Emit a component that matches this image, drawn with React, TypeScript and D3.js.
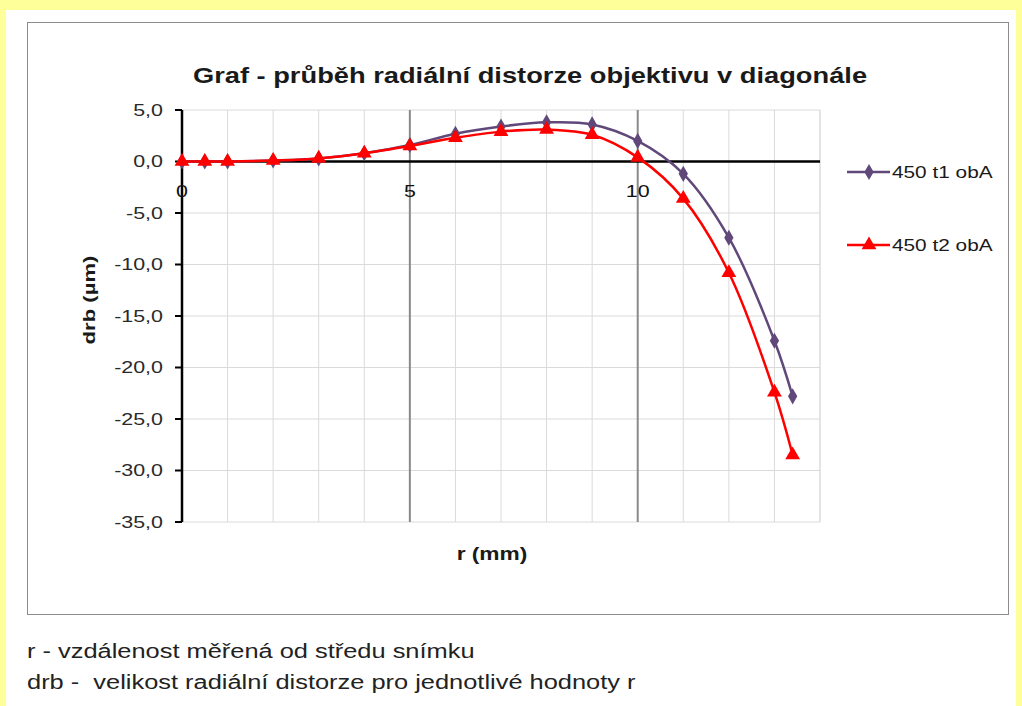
import React from "react"
import * as d3 from "d3"

// r (mm) - distance from image centre
const radius = [0, 0.5, 1, 2, 3, 4, 5, 6, 7, 8, 9, 10, 11, 12, 13, 13.4]
// drb (µm) for each measurement
const t1 = [0, 0, 0, 0.1, 0.3, 0.8, 1.6, 2.7, 3.4, 3.8, 3.6, 2.0, -1.2, -7.4, -17.4, -22.8]
const t2 = [0, 0, 0, 0.1, 0.3, 0.8, 1.5, 2.3, 2.9, 3.1, 2.6, 0.4, -3.6, -10.8, -22.4, -28.5]
const seriesNames = ["450 t1 obA", "450 t2 obA"]
const yTicks = [5, 0, -5, -10, -15, -20, -25, -30, -35]
const xLabels = [0, 5, 10]
const notes = [
    "r - vzdálenost měřená od středu snímku",
    "drb -  velikost radiální distorze pro jednotlivé hodnoty r",
]

const W = 1022
const H = 706
const font = "'Liberation Sans', Arial, sans-serif"

// text in the picture is a bit stretched sideways
function Label(props: { x: number, y: number, sx?: number, rotate?: number, anchor?: string, size: number, bold?: boolean, dy?: string, fill?: string, children: React.ReactNode }) {
    const { x, y, sx = 1.3, rotate = 0, anchor = "start", size, bold, dy, fill = "#1a1a1a" } = props
    return (
        <g transform={`translate(${x}, ${y}) rotate(${rotate}) scale(${sx}, 1)`}>
            <text textAnchor={anchor} fontSize={size} fontWeight={bold ? "bold" : "normal"} dy={dy} fill={fill}
                style={{ whiteSpace: "pre" }}>{props.children}</text>
        </g>
    )
}

export default function App() {
    const xScale = d3.scaleLinear().domain([0, 14]).range([182, 820])
    const yScale = d3.scaleLinear().domain([5, -35]).range([110, 522])

    const series = [
        { name: seriesNames[0], values: t1, color: "#60497A", symbol: d3.symbolDiamond, size: 75 },
        { name: seriesNames[1], values: t2, color: "#FF0000", symbol: d3.symbolTriangle, size: 95 },
    ]

    const line = d3.line<number>()
        .x((d, i) => xScale(radius[i]))
        .y(d => yScale(d))
        .curve(d3.curveCatmullRom.alpha(0.5))

    const minorX = d3.range(1, 15).filter(v => v % 5 !== 0)
    const fmt = (v: number) => d3.format(".1f")(v).replace(".", ",").replace("−", "-")

    return (
        <div style={{ position: "absolute", left: 0, top: 0 }}>
            <svg width={W} height={H} style={{ display: "block", fontFamily: font }}>
                <rect width={W} height={H} fill="#FFFF99" />
                <rect x={6} y={10} width={1010} height={H - 10} fill="#FFFFFF" />
                <rect x={27.5} y={22.5} width={981} height={592} fill="#FFFFFF" stroke="#8C8C8C" strokeWidth={1} />

                <Label x={530} y={83} sx={1.24} anchor="middle" size={22} bold>
                    Graf - průběh radiální distorze objektivu v diagonále
                </Label>

                {/* grid */}
                {yTicks.map(v => (
                    <line key={"gy" + v} x1={xScale(0)} x2={xScale(14)} y1={yScale(v)} y2={yScale(v)} stroke="#DADADA" strokeWidth={1} />
                ))}
                {minorX.map(v => (
                    <line key={"gx" + v} x1={xScale(v)} x2={xScale(v)} y1={yScale(5)} y2={yScale(-35)} stroke="#DADADA" strokeWidth={1} />
                ))}
                {[5, 10].map(v => (
                    <line key={"mx" + v} x1={xScale(v)} x2={xScale(v)} y1={yScale(5)} y2={yScale(-35)} stroke="#8A8A8A" strokeWidth={2} />
                ))}
                <line x1={xScale(14)} x2={xScale(14)} y1={yScale(5)} y2={yScale(-35)} stroke="#DADADA" />

                {/* axes */}
                <line x1={xScale(0)} x2={xScale(14)} y1={yScale(0)} y2={yScale(0)} stroke="#000" strokeWidth={2.5} />
                <line x1={xScale(0)} x2={xScale(0)} y1={yScale(5)} y2={yScale(-35)} stroke="#000" strokeWidth={2.5} />
                {yTicks.map(v => (
                    <g key={"ty" + v}>
                        <line x1={xScale(0) - 7} x2={xScale(0)} y1={yScale(v)} y2={yScale(v)} stroke="#000" strokeWidth={2} />
                        <Label x={xScale(0) - 19} y={yScale(v)} anchor="end" size={16.5} dy="0.36em" fill="#2a2a2a">{fmt(v)}</Label>
                    </g>
                ))}
                {xLabels.map(v => (
                    <Label key={"tx" + v} x={xScale(v)} y={yScale(0) + 35} anchor="middle" size={16.5} fill="#111">{v}</Label>
                ))}

                <Label x={95} y={300} rotate={-90} anchor="middle" size={17} bold>drb (µm)</Label>
                <Label x={492} y={560} anchor="middle" size={17.5} bold>r (mm)</Label>

                {/* series */}
                {series.map(s => (
                    <g key={s.name}>
                        <path d={line(s.values) ?? ""} fill="none" stroke={s.color} strokeWidth={2.5} />
                        {s.values.map((v, i) => (
                            <path key={i} transform={`translate(${xScale(radius[i])}, ${yScale(v)})`}
                                d={d3.symbol().type(s.symbol).size(s.size)() ?? ""} fill={s.color} />
                        ))}
                    </g>
                ))}

                {/* legend */}
                {series.map((s, i) => {
                    const ly = 172 + i * 73
                    return (
                        <g key={"lg" + s.name}>
                            <line x1={847} x2={890} y1={ly} y2={ly} stroke={s.color} strokeWidth={2.5} />
                            <path transform={`translate(869, ${ly})`} d={d3.symbol().type(s.symbol).size(s.size)() ?? ""} fill={s.color} />
                            <Label x={892} y={ly} size={16} dy="0.36em">{s.name}</Label>
                        </g>
                    )
                })}

                {notes.map((n, i) => (
                    <Label key={n} x={27} y={658 + i * 31} size={20} sx={1.27} fill="#222">{n}</Label>
                ))}
            </svg>
        </div>
    )
}
